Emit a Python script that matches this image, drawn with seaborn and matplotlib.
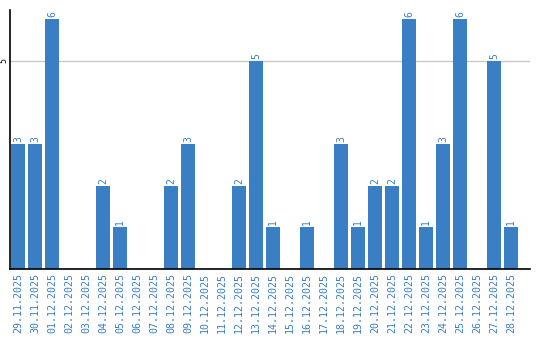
import matplotlib
matplotlib.use("Agg")
import matplotlib.pyplot as plt
import seaborn as sns
import pandas as pd

dates = ["29.11.2025", "30.11.2025", "01.12.2025", "02.12.2025", "03.12.2025",
         "04.12.2025", "05.12.2025", "06.12.2025", "07.12.2025", "08.12.2025",
         "09.12.2025", "10.12.2025", "11.12.2025", "12.12.2025", "13.12.2025",
         "14.12.2025", "15.12.2025", "16.12.2025", "17.12.2025", "18.12.2025",
         "19.12.2025", "20.12.2025", "21.12.2025", "22.12.2025", "23.12.2025",
         "24.12.2025", "25.12.2025", "26.12.2025", "27.12.2025", "28.12.2025"]
counts = [3, 3, 6, 0, 0, 2, 1, 0, 0, 2, 3, 0, 0, 2, 5, 1, 0, 1, 0, 3,
          1, 2, 2, 6, 1, 3, 6, 0, 5, 1]
ytick_vals = [5]

BLUE = "#3a7ec3"

sns.set_theme(style="white")
plt.rcParams["font.family"] = ["DejaVu Sans Mono", "DejaVu Sans"]

df = pd.DataFrame({"date": dates, "count": counts})

fig = plt.figure(figsize=(5.4, 3.4), dpi=100)
ax = fig.add_axes([10 / 540, 71 / 340, 520 / 540, 259 / 340])

sns.barplot(data=df, x="date", y="count", color=BLUE, saturation=1,
            width=0.82, ax=ax, zorder=3, linewidth=0)

ax.set_xlim(-0.47, 30.12)
ax.set_ylim(0, 6.22)
ax.set_yticks(ytick_vals)
ax.set_yticklabels([str(v) for v in ytick_vals], rotation=90, fontsize=6,
                   color="black", va="center")
ax.yaxis.grid(True, color="#c8c8c8", linewidth=1, zorder=0)
ax.tick_params(axis="y", length=0, pad=1)
ax.tick_params(axis="x", length=0, pad=3)
ax.set_xticks(range(len(dates)))
ax.set_xticklabels(dates, rotation=90, fontsize=7.2, color=BLUE)
ax.set_xlabel("")
ax.set_ylabel("")

for s in ["top", "right"]:
    ax.spines[s].set_visible(False)
for s in ["left", "bottom"]:
    ax.spines[s].set_color("black")
    ax.spines[s].set_linewidth(1.2)
    ax.spines[s].set_zorder(4)

for cont in ax.containers:
    labels = [str(v) if v > 0 else "" for v in counts]
    ax.bar_label(cont, labels=labels, rotation=90, fontsize=7, color=BLUE,
                 padding=1.5)

fig.savefig("out.png", dpi=100)
